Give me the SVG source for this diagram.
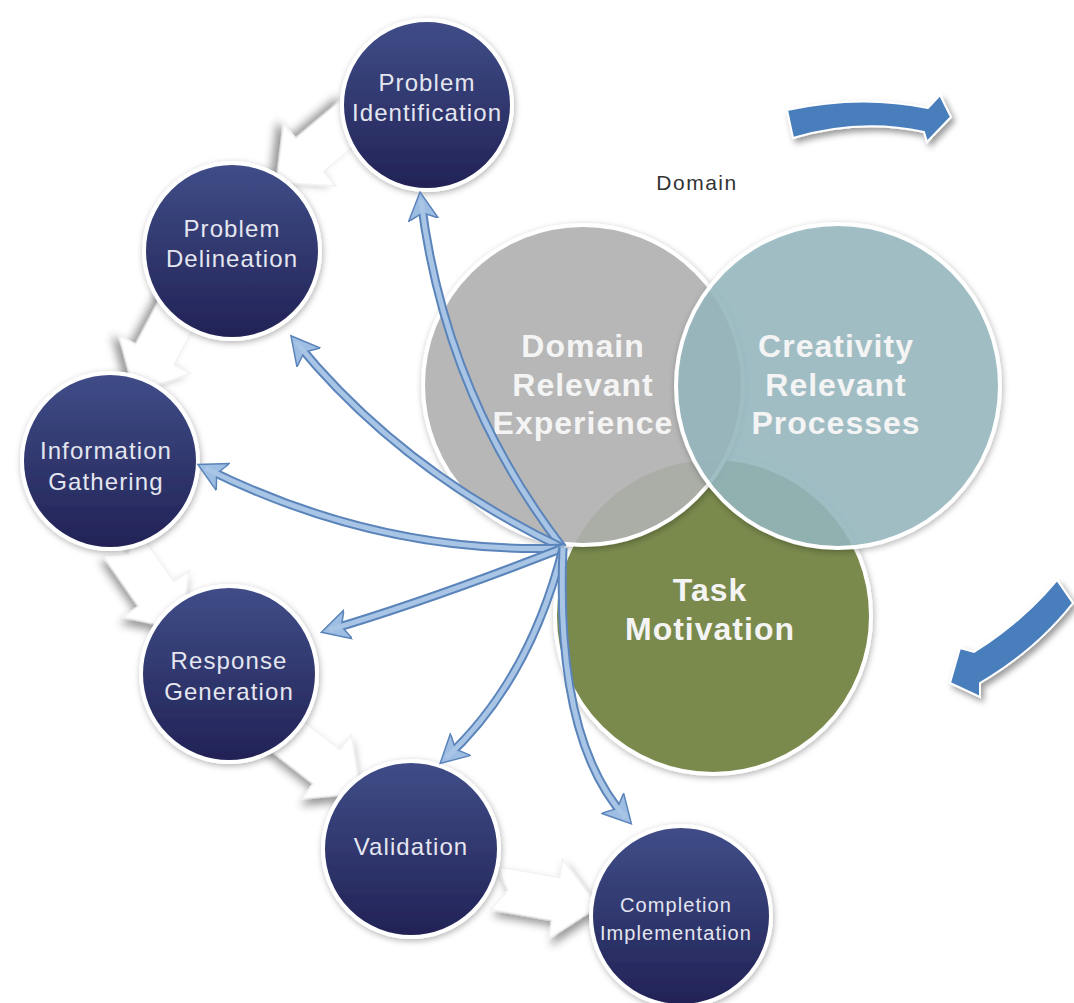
<svg xmlns="http://www.w3.org/2000/svg" width="1074" height="1003" viewBox="0 0 1074 1003">
<defs>
<style>
.node{stroke:#ffffff;stroke-width:4;fill:url(#navy);filter:url(#sh)}
.nt{font-family:"Liberation Sans",Arial,sans-serif;font-size:24px;fill:#e4e6f0;text-anchor:middle;letter-spacing:1.1px}
.bt{font-family:"Liberation Sans",Arial,sans-serif;font-size:32px;font-weight:bold;fill:#f4f4f4;text-anchor:middle;letter-spacing:1px}
.wa{fill:#ffffff;stroke:#f0f0f0;stroke-width:1;filter:url(#sh2)}
.lo{fill:none;stroke:#5a84ba;stroke-width:9}
.li{fill:none;stroke:#a9c5e6;stroke-width:5}
.ba{fill:#4a7ebd;stroke:#ffffff;stroke-width:2;filter:url(#sh2)}
</style>
<linearGradient id="navy" x1="0" y1="0" x2="0" y2="1">
<stop offset="0" stop-color="#404d88"/>
<stop offset="1" stop-color="#212255"/>
</linearGradient>
<filter id="sh" x="-20%" y="-20%" width="140%" height="140%">
<feDropShadow dx="1" dy="2" stdDeviation="3" flood-color="#000" flood-opacity="0.3"/>
</filter>
<filter id="sh2" x="-30%" y="-30%" width="160%" height="160%">
<feDropShadow dx="3" dy="4" stdDeviation="3" flood-color="#000" flood-opacity="0.4"/>
</filter>
<marker id="ah" viewBox="0 -16 30 32" refX="20" refY="0" markerWidth="30" markerHeight="32" markerUnits="userSpaceOnUse" orient="auto">
<path d="M0,-15 L28,0 L0,15 L7,0 Z" fill="#9ebde3" stroke="#5a84ba" stroke-width="1.5"/>
</marker>
</defs>
<rect width="1074" height="1003" fill="#ffffff"/>

<g id="big-arrows">
<path class="ba" d="M787,110 Q860,94 928,108 L940,95 L951,117 L927,142 L924,132 Q860,118 793,138 Z"/>
<path class="ba" d="M1057,580 Q1022,622 974,652 L960,648 L950,683 L980,697 L980,683 Q1036,650 1073,603 Z"/>
</g>

<g id="venn">
<g id="task-motivation">
<circle cx="713" cy="616" r="158" fill="#7a8a4e" stroke="#ffffff" stroke-width="4" filter="url(#sh)"/>
</g>
<g id="domain-relevant-experience">
<circle cx="583" cy="385" r="160" fill="#b3b3b3" fill-opacity="0.88" stroke="#ffffff" stroke-width="4" filter="url(#sh)"/>
</g>
<g id="creativity-relevant-processes">
<circle cx="838" cy="386" r="162" fill="#97b9c1" fill-opacity="0.85" stroke="#ffffff" stroke-width="4" filter="url(#sh)"/>
</g>
<text class="bt" x="583" y="357">Domain</text>
<text class="bt" x="583" y="396">Relevant</text>
<text class="bt" x="583" y="434">Experience</text>
<text class="bt" x="836" y="357">Creativity</text>
<text class="bt" x="836" y="396">Relevant</text>
<text class="bt" x="836" y="434">Processes</text>
<text class="bt" x="710" y="601">Task</text>
<text class="bt" x="710" y="640">Motivation</text>
<text x="697" y="190" font-family="Liberation Sans, Arial, sans-serif" font-size="21" fill="#333333" text-anchor="middle" letter-spacing="1.5">Domain</text>
</g>

<g id="cycle-connectors">
<path class="wa" transform="translate(318,148) rotate(140) scale(1.35)" d="M-38,-16 L8,-16 L8,-30 L40,0 L8,30 L8,16 L-38,16 L-28,0 Z"/>
<path class="wa" transform="translate(160,345) rotate(118) scale(1.35)" d="M-38,-16 L8,-16 L8,-30 L40,0 L8,30 L8,16 L-38,16 L-28,0 Z"/>
<path class="wa" transform="translate(150,585) rotate(55) scale(1.35)" d="M-38,-16 L8,-16 L8,-30 L40,0 L8,30 L8,16 L-38,16 L-28,0 Z"/>
<path class="wa" transform="translate(318,760) rotate(38) scale(1.35)" d="M-38,-16 L8,-16 L8,-30 L40,0 L8,30 L8,16 L-38,16 L-28,0 Z"/>
<path class="wa" transform="translate(545,897) rotate(10) scale(1.35)" d="M-38,-16 L8,-16 L8,-30 L40,0 L8,30 L8,16 L-38,16 L-28,0 Z"/>
</g>

<g id="nodes">
<g id="problem-identification">
<circle class="node" cx="427" cy="105" r="85"/>
<text class="nt" x="427" y="91">Problem</text>
<text class="nt" x="427" y="121">Identification</text>
</g>
<g id="problem-delineation">
<circle class="node" cx="232" cy="251" r="88"/>
<text class="nt" x="232" y="237">Problem</text>
<text class="nt" x="232" y="267">Delineation</text>
</g>
<g id="information-gathering">
<circle class="node" cx="110" cy="461" r="88"/>
<text class="nt" x="106" y="459">Information</text>
<text class="nt" x="106" y="490">Gathering</text>
</g>
<g id="response-generation">
<circle class="node" cx="229" cy="674" r="88"/>
<text class="nt" x="229" y="669">Response</text>
<text class="nt" x="229" y="700">Generation</text>
</g>
<g id="validation">
<circle class="node" cx="411" cy="849" r="88"/>
<text class="nt" x="411" y="855">Validation</text>
</g>
<g id="completion-implementation">
<circle class="node" cx="681" cy="916" r="90"/>
<text class="nt" x="676" y="912" style="font-size:20px">Completion</text>
<text class="nt" x="676" y="940" style="font-size:20px">Implementation</text>
</g>
</g>

<g id="connectors">
<path class="lo" d="M563,548 Q445,395 421,200" marker-end="url(#ah)"/>
<path class="li" d="M563,548 Q445,395 421,200"/>
<path class="lo" d="M563,548 Q400,470 296,342" marker-end="url(#ah)"/>
<path class="li" d="M563,548 Q400,470 296,342"/>
<path class="lo" d="M563,548 Q380,555 205,468" marker-end="url(#ah)"/>
<path class="li" d="M563,548 Q380,555 205,468"/>
<path class="lo" d="M563,548 Q430,600 329,630" marker-end="url(#ah)"/>
<path class="li" d="M563,548 Q430,600 329,630"/>
<path class="lo" d="M563,548 Q530,680 446,758" marker-end="url(#ah)"/>
<path class="li" d="M563,548 Q530,680 446,758"/>
<path class="lo" d="M563,548 Q555,740 626,818" marker-end="url(#ah)"/>
<path class="li" d="M563,548 Q555,740 626,818"/>
</g>
</svg>
